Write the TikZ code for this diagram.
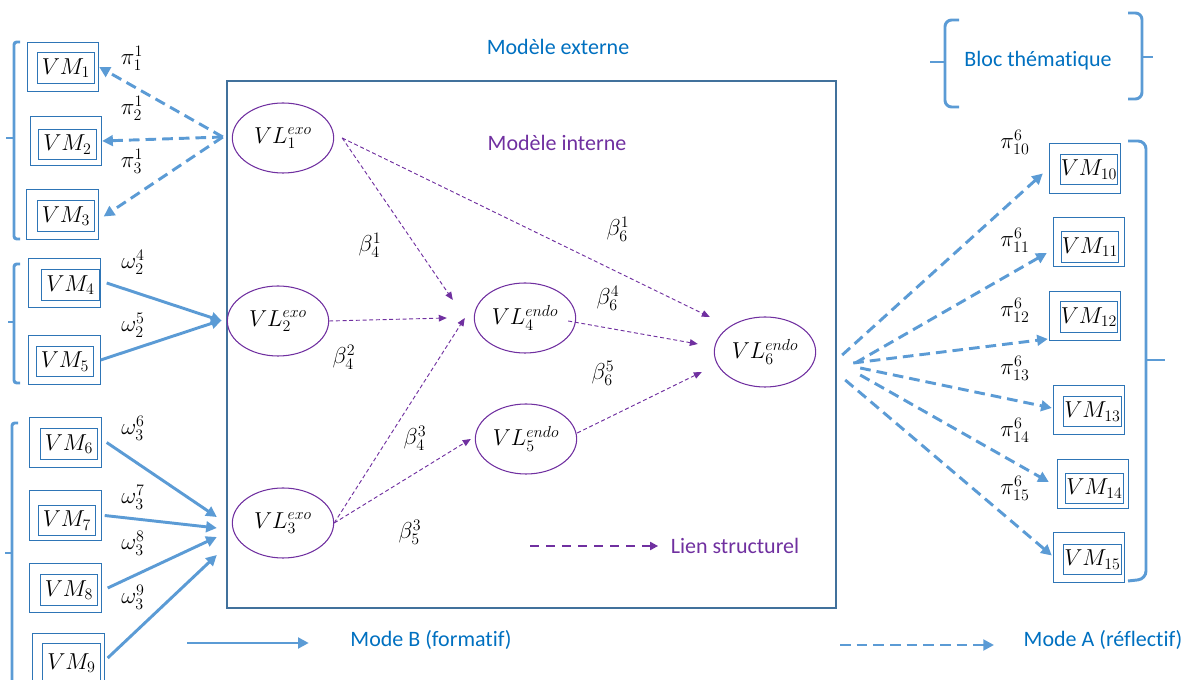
\documentclass[tikz,border=0pt]{standalone}
\usepackage{fontspec}
\setmainfont{Carlito}[Ligatures=NoCommon]
\usetikzlibrary{shapes.geometric,arrows.meta,fit,calc}
\definecolor{tblue}{HTML}{0070C0}
\definecolor{lblue}{HTML}{5B9BD5}
\definecolor{bblue}{HTML}{2E75B6}
\definecolor{framec}{HTML}{41719C}
\definecolor{purp}{HTML}{7030A0}
\newcommand\vmpair[6]{%
  \node[outbox] (o#1) at (#2,#3) {};
  \node[inbox] (vm#1) at (#4,#5) {$VM_{#6}$};}
\begin{document}
\begin{tikzpicture}[x=0.75pt,y=-0.75pt,
  outbox/.style={draw=bblue, line width=0.8pt, inner sep=0pt, minimum width=53.5pt, minimum height=37pt},
  inbox/.style={draw=bblue, line width=0.8pt, inner sep=0pt, minimum width=43pt, minimum height=23pt, font=\fontsize{18}{20}\selectfont},
  vl/.style={ellipse, draw=purp, line width=0.8pt, minimum width=76pt, minimum height=52.5pt, inner sep=0pt, font=\fontsize{18}{20}\selectfont},
  lab/.style={font=\fontsize{18}{20}\selectfont},
  txt/.style={font=\fontsize{16.5}{20}\selectfont},
  modeA/.style={draw=lblue, line width=2.2pt, dash pattern=on 8pt off 4.5pt, -{Triangle[length=8pt,width=8pt]}},
  modeB/.style={draw=lblue, line width=2.2pt, -{Triangle[length=8pt,width=8pt]}},
  struct/.style={draw=purp, line width=0.7pt, dash pattern=on 3pt off 2pt, -{Triangle[length=6pt,width=5pt]}},
  structleg/.style={draw=purp, line width=1.5pt, dash pattern=on 7pt off 5pt, -{Triangle[length=6pt,width=6pt]}},
  brk/.style={draw=lblue, line width=2.2pt},
]
\useasboundingbox (0,0) rectangle (1193,680);

% external model frame
\node[draw=framec, line width=0.8pt, inner sep=0pt, fit={(227,81)(836,608)}] (ext) {};
\node[txt, text=tblue] (mext) at (558,47) {Modèle externe};
\node[txt, text=purp] (mint) at (557,143) {Modèle interne};
\node[txt, text=tblue] (bloc) at (1038,61) {Bloc thématique};

% latent variables
\node[vl] (vl1) at (283,138) {$VL_1^{exo}$};
\node[vl] (vl2) at (278,321) {$VL_2^{exo}$};
\node[vl] (vl3) at (283,523) {$VL_3^{exo}$};
\node[vl] (vl4) at (525,318) {$VL_4^{endo}$};
\node[vl] (vl5) at (526,439) {$VL_5^{endo}$};
\node[vl] (vl6) at (765,352) {$VL_6^{endo}$};

% manifest variables (left)
\vmpair{1}{63}{67}{66}{68}{1}
\vmpair{2}{66}{141}{67.5}{144.5}{2}
\vmpair{3}{62.5}{214.5}{66}{216}{3}
\vmpair{4}{64.5}{283}{70.5}{285}{4}
\vmpair{5}{64.5}{360}{65}{361.5}{5}
\vmpair{6}{65.5}{442.5}{69}{444}{6}
\vmpair{7}{65.5}{515.5}{67}{520.5}{7}
\vmpair{8}{65.5}{588}{69}{590}{8}
\node[outbox, minimum height=50pt] (o9) at (68.5,667) {};
\node[inbox, minimum height=29pt] (vm9) at (71.5,663) {$VM_9$};

% manifest variables (right)
\vmpair{10}{1085}{168.5}{1089}{169.5}{10}
\vmpair{11}{1089}{242}{1090}{247}{11}
\vmpair{12}{1085}{316}{1089}{317}{12}
\vmpair{13}{1089}{410}{1092.5}{411.5}{13}
\vmpair{14}{1093}{484}{1094.5}{488.5}{14}
\vmpair{15}{1089}{557.5}{1092.5}{559.5}{15}

% brackets
\draw[brk, rounded corners=2] (20,42) -- (14,42) -- (14,239) -- (20,239);
\draw[brk] (6,138) -- (14,138);
\draw[brk, rounded corners=2] (20,264) -- (14,264) -- (14,383) -- (20,383);
\draw[brk] (8,322) -- (14,322);
\draw[brk, rounded corners=2] (18,423) -- (12,423) -- (12,700);
\draw[brk] (5,553) -- (12,553);
\draw[brk, rounded corners=6] (1128,141) -- (1146,141) -- (1146,579) -- (1128,581);
\draw[brk] (1146,360) -- (1165,360);
\draw[brk, rounded corners=5] (959,20) -- (945,20) -- (945,107) -- (959,107);
\draw[brk] (930,62) -- (945,62);
\draw[brk, rounded corners=5] (1128,13) -- (1142,13) -- (1142,99) -- (1128,99);
\draw[brk] (1142,57) -- (1153,57);

% mode A (left)
\draw[modeA] ([shift={(-9,-1)}]vl1.west) -- (o1.east);
\draw[modeA] ([shift={(-9,-1)}]vl1.west) -- (o2.east);
\draw[modeA] ([shift={(-9,-1)}]vl1.west) -- ([shift={(5,2)}]o3.east);
\node[lab] (p1) at (132,58) {$\pi_1^1$};
\node[lab] (p2) at (132,108) {$\pi_2^1$};
\node[lab] (p3) at (132,161) {$\pi_3^1$};

% mode B (left)
\draw[modeB] ([shift={(6,0)}]o4.east) -- ([shift={(-5,0)}]vl2.west);
\draw[modeB] (o5.east) -- ([shift={(-5,-1)}]vl2.west);
\draw[modeB] ([shift={(5,0)}]o6.east) -- ([shift={(-15,-6)}]vl3.west);
\draw[modeB] ([shift={(3,0)}]o7.east) -- ([shift={(-15,5)}]vl3.west);
\draw[modeB] ([shift={(6,0)}]o8.east) -- ([shift={(-15,14)}]vl3.west);
\draw[modeB] ([shift={(3,-9)}]o9.east) -- ([shift={(-15,32)}]vl3.west);
\node[lab] (w24) at (133,262) {$\omega_2^4$};
\node[lab] (w25) at (133,325) {$\omega_2^5$};
\node[lab] (w36) at (133,428) {$\omega_3^6$};
\node[lab] (w37) at (133,497) {$\omega_3^7$};
\node[lab] (w38) at (133,543) {$\omega_3^8$};
\node[lab] (w39) at (133,597) {$\omega_3^9$};

% mode A (right)
\draw[modeA] ([shift={(26,3)}]vl6.east) -- ([shift={(-6,5)}]o10.west);
\draw[modeA] ([shift={(39,11)}]vl6.east) -- ([shift={(-6,11)}]o11.west);
\draw[modeA] ([shift={(37,11)}]vl6.east) -- ([shift={(-1,23)}]o12.west);
\draw[modeA] ([shift={(44,16)}]vl6.east) -- ([shift={(-1,-2)}]o13.west);
\draw[modeA] ([shift={(44,23)}]vl6.east) -- ([shift={(-8,-2)}]o14.west);
\draw[modeA] ([shift={(29,28)}]vl6.east) -- ([shift={(-1,-2)}]o15.west);
\node[lab] (p10) at (1015,142) {$\pi_{10}^6$};
\node[lab] (p11) at (1015,240) {$\pi_{11}^6$};
\node[lab] (p12) at (1015,310) {$\pi_{12}^6$};
\node[lab] (p13) at (1015,368) {$\pi_{13}^6$};
\node[lab] (p14) at (1015,430) {$\pi_{14}^6$};
\node[lab] (p15) at (1015,488) {$\pi_{15}^6$};

% structural links
\draw[struct] ([shift={(8,0)}]vl1.east) -- ([shift={(-21,-18)}]vl4.west);
\draw[struct] ([shift={(8,0)}]vl1.east) -- ([shift={(-4,-35)}]vl6.west);
\draw[struct] (vl2.east) -- ([shift={(-27,0)}]vl4.west);
\draw[struct] (vl3.east) -- ([shift={(-9,0)}]vl4.west);
\draw[struct] (vl3.east) -- ([shift={(-4,0)}]vl5.west);
\draw[struct] ([shift={(-8,3)}]vl4.east) -- ([shift={(-16,-8)}]vl6.west);
\draw[struct] ([shift={(0,-6)}]vl5.east) -- ([shift={(-12,20)}]vl6.west);
\node[lab] (b41) at (370,245) {$\beta_4^1$};
\node[lab] (b42) at (344,357) {$\beta_4^2$};
\node[lab] (b43) at (415,438) {$\beta_4^3$};
\node[lab] (b53) at (410,532) {$\beta_5^3$};
\node[lab] (b61) at (618,229) {$\beta_6^1$};
\node[lab] (b64) at (608,298) {$\beta_6^4$};
\node[lab] (b65) at (603,373) {$\beta_6^5$};

% legends
\node[txt, text=purp] (lien) at (735,546) {Lien structurel};
\coordinate (lienS) at (530,546);
\draw[structleg] (lienS) -- ([shift={(-8,0)}]lien.west);
\node[txt, text=tblue] (modeb) at (431,640) {Mode B (formatif)};
\coordinate (modebS) at (187,643);
\draw[modeB] (modebS) -- ([shift={(-37,3)}]modeb.west);
\node[txt, text=tblue] (modea) at (1103,640) {Mode A (réflectif)};
\coordinate (modeaS) at (840,645);
\draw[modeA] (modeaS) -- ([shift={(-25,5)}]modea.west);
\end{tikzpicture}
\end{document}
